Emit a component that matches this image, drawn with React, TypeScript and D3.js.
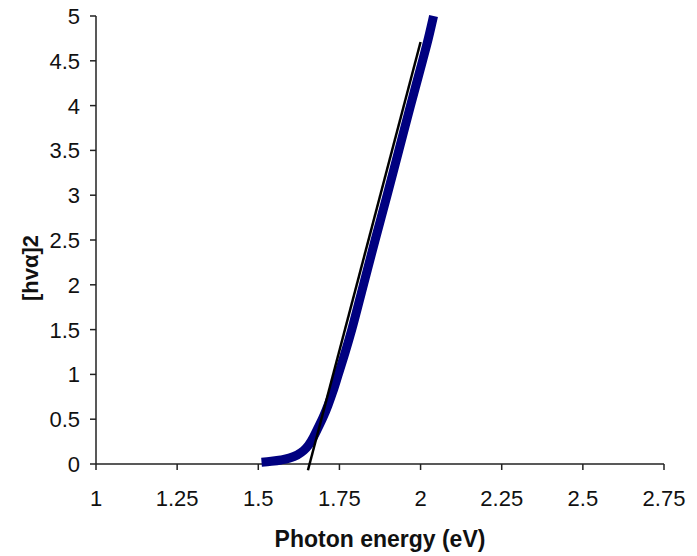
import React from 'react'
import * as d3 from 'd3'

// Absorption data
const energy = [1.51, 1.54, 1.57, 1.595, 1.62, 1.64, 1.655, 1.67, 1.685, 1.7, 1.715, 1.73, 1.745, 1.768, 1.788, 1.824, 1.86, 1.897, 1.933, 1.969, 2.006, 2.024, 2.04]
const absorb = [0.02, 0.03, 0.045, 0.065, 0.1, 0.15, 0.21, 0.3, 0.41, 0.524, 0.658, 0.81, 0.982, 1.25, 1.5, 2.0, 2.5, 3.0, 3.5, 4.0, 4.5, 4.75, 5.0]

// Tangent (linear fit) line end points
const fitX = [1.653, 2.0]
const fitY = [-0.07, 4.71]

const xTicks = [1, 1.25, 1.5, 1.75, 2, 2.25, 2.5, 2.75]
const yTicks = [0, 0.5, 1, 1.5, 2, 2.5, 3, 3.5, 4, 4.5, 5]

const W = 697
const H = 556
const margin = { left: 96, right: 33, top: 16, bottom: 92 }
const font = 'Liberation Sans, Arial, sans-serif'

export default function App() {
  const x = d3.scaleLinear().domain([1, 2.75]).range([margin.left, W - margin.right])
  const y = d3.scaleLinear().domain([0, 5]).range([H - margin.bottom, margin.top])

  const pts = energy.map((e, i) => [e, absorb[i]] as [number, number])
  const line = d3.line<[number, number]>()
    .x(d => x(d[0]))
    .y(d => y(d[1]))
    .curve(d3.curveMonotoneX)

  const fit = fitX.map((e, i) => [e, fitY[i]] as [number, number])
  const fitLine = d3.line<[number, number]>().x(d => x(d[0])).y(d => y(d[1]))

  const y0 = y(0)

  return (
    <svg width={W} height={H} style={{ position: 'absolute', left: 0, top: 0, background: '#fff' }}>
      {/* axes */}
      <line x1={x(1)} x2={x(1)} y1={y(5)} y2={y0} stroke="#222" strokeWidth={1.5} />
      <line x1={x(1)} x2={x(2.75)} y1={y0} y2={y0} stroke="#222" strokeWidth={1.5} />
      {yTicks.map(t => (
        <g key={'y' + t}>
          <line x1={x(1) - 6} x2={x(1)} y1={y(t)} y2={y(t)} stroke="#222" strokeWidth={1.5} />
          <text x={x(1) - 16} y={y(t)} dy="0.36em" textAnchor="end" fontFamily={font} fontSize={22} fill="#111">{String(t)}</text>
        </g>
      ))}
      {xTicks.map(t => (
        <g key={'x' + t}>
          <line x1={x(t)} x2={x(t)} y1={y0} y2={y0 + 6} stroke="#222" strokeWidth={1.5} />
          <text x={x(t)} y={506} textAnchor="middle" fontFamily={font} fontSize={22} fill="#111">{String(t)}</text>
        </g>
      ))}

      {/* data */}
      <path d={line(pts) ?? ''} fill="none" stroke="#000080" strokeWidth={9} strokeLinejoin="round" />
      <path d={fitLine(fit) ?? ''} fill="none" stroke="#000" strokeWidth={2.5} />

      {/* axis titles */}
      <text x={(x(1) + x(2.75)) / 2} y={547} textAnchor="middle" fontFamily={font} fontSize={23} fontWeight="bold" fill="#111">Photon energy (eV)</text>
      <text transform="translate(38, 268) rotate(-90)" textAnchor="middle" fontFamily={font} fontSize={22} fontWeight="bold" fill="#111">[hvα]2</text>
    </svg>
  )
}
